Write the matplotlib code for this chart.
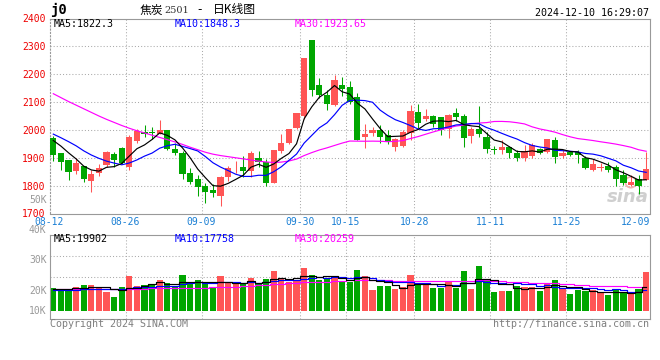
import matplotlib
matplotlib.use('Agg')
import matplotlib.pyplot as plt
import numpy as np
import pandas as pd

plt.rcParams['font.family'] = ['DejaVu Sans Mono', 'Noto Sans CJK SC']

# ---------------- data ----------------
tick_idx = [0, 10, 20, 33, 39, 48, 58, 68, 78]
tick_labels = ['08-12', '08-26', '09-09', '09-30', '10-15', '10-28', '11-11', '11-25', '12-09']

opens = [1970, 1916, 1892, 1853, 1870, 1818, 1844, 1874, 1913, 1935,
         1868, 1960, 1993, 1993, 1985, 1999, 1931, 1916, 1844, 1824,
         1799, 1784, 1764, 1830, 1866, 1867, 1853, 1901, 1884, 1810,
         1925, 1952, 2008, 2049, 2322, 2161, 2125, 2089, 2161, 2153,
         2119, 1975, 1990, 1999, 1980, 1938, 1944, 1990, 2064, 2038,
         2049, 2045, 2005, 2059, 2049, 1979, 2002, 1975, 1931, 1928,
         1939, 1918, 1901, 1906, 1931, 1922, 1963, 1907, 1922, 1922,
         1901, 1856, 1863, 1871, 1866, 1838, 1802, 1824, 1820]
highs = [1978, 1918, 1893, 1898, 1872, 1856, 1877, 1925, 1920, 1937,
         1981, 2002, 2017, 2011, 2035, 2000, 1952, 1925, 1862, 1838,
         1808, 1805, 1836, 1870, 1888, 1906, 1925, 1925, 1894, 1929,
         1984, 2003, 2061, 2259, 2322, 2187, 2143, 2196, 2190, 2176,
         2133, 2023, 2009, 2017, 1999, 1971, 2000, 2089, 2092, 2075,
         2054, 2047, 2057, 2077, 2057, 2009, 2085, 1993, 1942, 1965,
         1941, 1928, 1946, 1952, 1936, 1967, 1973, 1928, 1925, 1928,
         1906, 1894, 1880, 1886, 1874, 1856, 1838, 1838, 1922]
lows = [1889, 1856, 1820, 1842, 1814, 1778, 1836, 1868, 1868, 1878,
        1856, 1952, 1975, 1966, 1984, 1928, 1910, 1824, 1806, 1764,
        1737, 1760, 1728, 1818, 1846, 1832, 1832, 1866, 1800, 1809,
        1916, 1950, 2005, 2041, 2121, 2113, 2071, 2087, 2121, 2092,
        1963, 1935, 1978, 1952, 1949, 1924, 1940, 1963, 2008, 2032,
        2009, 1981, 1970, 2032, 1939, 1952, 1973, 1916, 1913, 1915,
        1898, 1888, 1888, 1901, 1912, 1918, 1882, 1901, 1906, 1880,
        1858, 1853, 1853, 1850, 1799, 1802, 1799, 1770, 1820]
closes = [1910, 1886, 1850, 1880, 1824, 1842, 1864, 1919, 1892, 1881,
          1975, 1996, 1987, 1990, 1999, 1930, 1916, 1842, 1814, 1796,
          1776, 1772, 1832, 1864, 1868, 1851, 1916, 1884, 1810, 1928,
          1952, 2002, 2059, 2258, 2143, 2125, 2092, 2179, 2146, 2101,
          1963, 1987, 1999, 1975, 1955, 1969, 1993, 2067, 2025, 2049,
          2023, 1999, 2053, 2047, 1972, 2002, 1985, 1931, 1929, 1937,
          1916, 1901, 1924, 1946, 1916, 1966, 1904, 1916, 1910, 1910,
          1862, 1877, 1866, 1856, 1824, 1808, 1814, 1799, 1861]
volumes = [19670, 17703, 17703, 20513, 21918, 21918, 19108, 16017, 11802, 20232,
           29786, 21075, 21918, 21637, 26133, 23604, 20232, 30348, 22480, 26133,
           23042, 19108, 29786, 23323, 22761, 22480, 28100, 23042, 26976, 33720,
           28100, 24728, 26133, 36530, 30348, 26133, 26695, 29786, 24166, 24166,
           34563, 29786, 17703, 21075, 21075, 18546, 20513, 30348, 22480, 22480,
           19670, 19670, 25290, 19670, 34001, 18546, 37935, 26133, 16017, 16860,
           16860, 21075, 20513, 20513, 16860, 23604, 26133, 19108, 14331, 17703,
           16860, 17703, 14893, 13488, 17703, 15455, 14893, 18546, 32877]

# moving-average values at the left edge (need data before the window)
ma5_head = [1962, 1942, 1918, 1896]
ma10_head = [1985, 1972, 1958, 1943, 1925, 1910, 1898, 1888, 1881]
ma30_head = [2130, 2116, 2102, 2089, 2076, 2063, 2050, 2038, 2027, 2016,
             2006, 1997, 1989, 1981, 1973, 1965, 1957, 1948, 1938, 1929,
             1920, 1913, 1908, 1904, 1900, 1896, 1892, 1888, 1885]
vma5_head = [18500, 18700, 18900, 19200]
vma10_head = [17800, 17900, 18000, 18100, 18200, 18300, 18400, 18500, 18600]
vma30_head = [18300, 18300, 18300, 18350, 18400, 18400, 18450, 18500, 18550, 18600,
              18700, 18800, 18900, 19000, 19100, 19200, 19300, 19400, 19500, 19650,
              19800, 19950, 20100, 20300, 20500, 20800, 21100, 21500, 22000]

price_ticks = [1700, 1800, 1900, 2000, 2100, 2200, 2300, 2400]
vol_labels = ['50K', '40K', '30K', '20K', '10K']

# ---------------- styling ----------------
RED = '#ff5555'
GREEN = '#00a600'
GRID = '#aaaaaa'
BORDER = '#999999'
DATE_C = '#1a7fd4'
W, H = 660, 360


def fx(px):
    return px / W


def fy(py):
    return 1 - py / H


def ma_with_head(values, n, head):
    s = pd.Series(values, dtype=float).rolling(n).mean().to_numpy()
    s[:n - 1] = head
    return s


n = len(closes)
x = np.arange(n)
o = np.array(opens, float)
c = np.array(closes, float)
hi = np.array(highs, float)
lo = np.array(lows, float)
up = c >= o
colors = [RED if u else GREEN for u in up]

fig = plt.figure(figsize=(6.6, 3.6), dpi=100)
fig.patch.set_facecolor('white')

L, R = 49.5, 650.0
ax = fig.add_axes([fx(L), fy(213.5), (R - L) / W, (213.5 - 18.5) / H])
axv = fig.add_axes([fx(L), fy(318.5), (R - L) / W, (318.5 - 234.5) / H])

# ---------------- price panel ----------------
ax.set_xlim(-0.5, n - 0.5)
ax.set_ylim(1700, 2400)
for yv in price_ticks[1:-1]:
    ax.axhline(yv, color=GRID, ls=(0, (1, 2)), lw=0.75, zorder=0)
for ti in tick_idx[1:-1]:
    ax.axvline(ti - 0.5, color=GRID, ls=(0, (1, 2)), lw=0.75, zorder=0)
    axv.axvline(ti - 0.5, color=GRID, ls=(0, (1, 2)), lw=0.75, zorder=0)

# watermark
ax.text(0.963, 0.085, 'sina', transform=ax.transAxes, fontsize=13, fontweight='bold',
        fontstyle='italic', family='DejaVu Sans', color='#cfcfcf', ha='center', va='center', zorder=0.5)
ax.scatter([0.968], [0.16], s=60, transform=ax.transAxes, facecolor='none',
           edgecolor='#f3b0b0', lw=1.2, zorder=0.5)

ax.vlines(x, lo, hi, colors=colors, lw=0.75, zorder=2)
body_h = np.maximum(np.abs(c - o), 2.6)
ax.bar(x, body_h, bottom=np.minimum(o, c), width=0.82, color=colors, lw=0, zorder=3)

ma5 = ma_with_head(closes, 5, ma5_head)
ma10 = ma_with_head(closes, 10, ma10_head)
ma30 = ma_with_head(closes, 30, ma30_head)
ax.plot(x, ma30, color='#ff00ff', lw=0.85, zorder=4)
ax.plot(x, ma10, color='#0000ff', lw=0.85, zorder=4)
ax.plot(x, ma5, color='black', lw=0.85, zorder=5)

ax.set_yticks(price_ticks)
ax.set_yticklabels([str(t) for t in price_ticks])
ax.tick_params(axis='y', length=0, pad=3, labelsize=7, labelcolor='#ee0000')
ax.set_xticks([])
for s in ax.spines.values():
    s.set_color(BORDER)
    s.set_linewidth(0.8)
ax.spines['left'].set_linestyle((0, (1, 2)))

# date labels
for k, (ti, lab) in enumerate(zip(tick_idx, tick_labels)):
    if k == len(tick_idx) - 1:
        ax.text(1.0, -0.045, lab, transform=ax.transAxes, ha='right', va='center',
                fontsize=7, color=DATE_C)
    else:
        ax.text(ti - 0.5, -0.045, lab, transform=ax.get_xaxis_transform(), ha='center',
                va='center', fontsize=7, color=DATE_C)

# ---------------- volume panel ----------------
axv.set_xlim(-0.5, n - 0.5)
vbase_px, vk = 311.0, 843.0
axv.set_ylim(-(318.5 - vbase_px) * vk, (vbase_px - 234.5) * vk)
for f in (0.5, 0.745):
    axv.plot([0, 1], [f, f], transform=axv.transAxes, color=GRID, ls=(0, (1, 2)), lw=0.75, zorder=0)
axv.bar(x, volumes, width=0.82, color=colors, lw=0, zorder=2)
vma5 = ma_with_head(volumes, 5, vma5_head)
vma10 = ma_with_head(volumes, 10, vma10_head)
vma30 = ma_with_head(volumes, 30, vma30_head)
axv.plot(x, vma30, color='#ff00ff', lw=0.85, drawstyle='steps-mid', zorder=3)
axv.plot(x, vma10, color='#0000ff', lw=0.85, drawstyle='steps-mid', zorder=3)
axv.plot(x, vma5, color='black', lw=0.85, drawstyle='steps-mid', zorder=4)
axv.set_xticks([])
axv.set_yticks([])
for s in axv.spines.values():
    s.set_color(BORDER)
    s.set_linewidth(0.8)

for lab, py in zip(vol_labels, [200, 230, 260, 290.7, 311]):
    fig.text(fx(46.5), fy(py), lab, ha='right', va='center', fontsize=7, color='#999999')

# ---------------- header / legends ----------------
fig.text(fx(50.5), fy(10), 'j0', fontsize=10, fontweight='bold', ha='left', va='center')
fig.text(fx(140), fy(10), '焦炭', family=['Noto Sans CJK SC'], fontsize=8.5, ha='left', va='center')
fig.text(fx(164), fy(10.5), '2501', family=['DejaVu Serif'], fontsize=7, color='#333333', ha='left', va='center')
fig.text(fx(200), fy(10), '-', family=['DejaVu Sans'], fontsize=8.5, ha='center', va='center')
fig.text(fx(213), fy(10), '日K线图', family=['Noto Sans CJK SC'], fontsize=8.5, ha='left', va='center')
fig.text(fx(649), fy(12.5), '2024-12-10 16:29:07', fontsize=7.2, ha='right', va='center')

fig.text(fx(54), fy(24), 'MA5:1822.3', fontsize=7.2, color='black', va='center')
fig.text(fx(175), fy(24), 'MA10:1848.3', fontsize=7.2, color='#0000ff', va='center')
fig.text(fx(295), fy(24), 'MA30:1923.65', fontsize=7.2, color='#ff00ff', va='center')

fig.text(fx(54), fy(239), 'MA5:19902', fontsize=7.2, color='black', va='center')
fig.text(fx(175), fy(239), 'MA10:17758', fontsize=7.2, color='#0000ff', va='center')
fig.text(fx(295), fy(239), 'MA30:20259', fontsize=7.2, color='#ff00ff', va='center')

fig.text(fx(50), fy(324), 'Copyright 2024 SINA.COM', fontsize=7.2, color='#7f7f7f', ha='left', va='center')
fig.text(fx(649), fy(324), 'http://finance.sina.com.cn', fontsize=7.2, color='#7f7f7f', ha='right', va='center')

fig.savefig('out.png', dpi=100, facecolor='white')
